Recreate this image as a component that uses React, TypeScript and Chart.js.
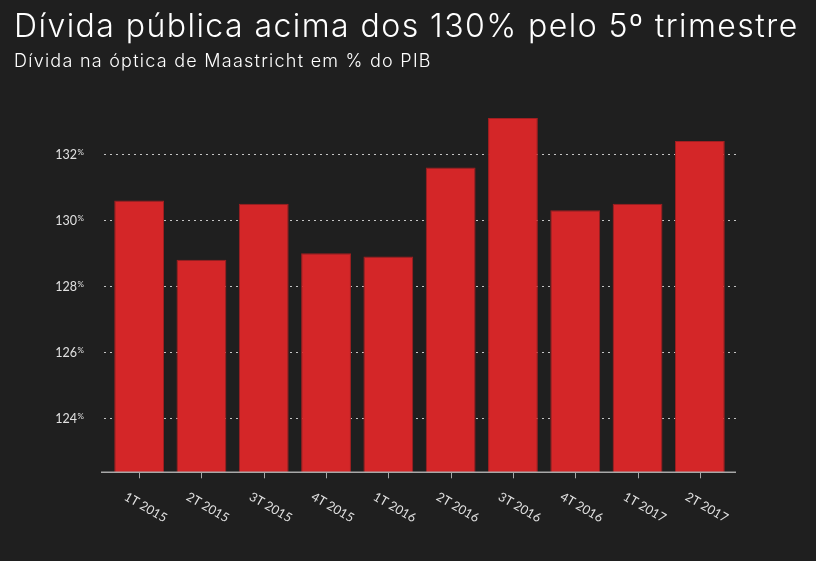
import React, { useEffect, useRef } from "react";
import { Chart, registerables } from "chart.js";

Chart.register(...registerables);

const TITLE = "Dívida pública acima dos 130% pelo 5º trimestre";
const SUBTITLE = "Dívida na óptica de Maastricht em % do PIB";
const categories = [
  "1T 2015", "2T 2015", "3T 2015", "4T 2015",
  "1T 2016", "2T 2016", "3T 2016", "4T 2016",
  "1T 2017", "2T 2017",
];
const debtValues = [130.6, 128.8, 130.5, 129.0, 128.9, 131.6, 133.1, 130.3, 130.5, 132.4];
const yTicks = [124, 126, 128, 130, 132];
const Y_MIN = 122.36;
const Y_MAX = 134;

const FONT = "Lato, 'Open Sans', sans-serif";
const TITLE_FONT = "Inter, Lato, sans-serif";
const BG = "#1f1f1f";

const customAxes = {
  id: "customAxes",
  beforeDatasetsDraw(chart: any) {
    const { ctx, chartArea, scales } = chart;
    const y = scales.y;
    ctx.save();
    ctx.strokeStyle = "#c4c4c4";
    ctx.lineWidth = 1;
    ctx.setLineDash([2, 4]);
    yTicks.forEach((t) => {
      const py = Math.round(y.getPixelForValue(t)) + 0.5;
      ctx.beginPath();
      ctx.moveTo(chartArea.left - 4, py);
      ctx.lineTo(chartArea.right + 5, py);
      ctx.stroke();
    });
    ctx.setLineDash([]);
    ctx.fillStyle = "#e0e0e0";
    yTicks.forEach((t) => {
      const py = y.getPixelForValue(t);
      ctx.font = `12.5px ${FONT}`;
      ctx.textAlign = "right";
      ctx.textBaseline = "alphabetic";
      ctx.fillText(String(t), 77, py + 4.5);
      ctx.font = `8px ${FONT}`;
      ctx.textAlign = "left";
      ctx.fillText("%", 77.5, py + 0.5);
    });
    ctx.restore();
  },
  afterDraw(chart: any) {
    const { ctx, chartArea, scales } = chart;
    const x = scales.x;
    ctx.save();
    const ay = chartArea.bottom;
    ctx.strokeStyle = "#a8a8a8";
    ctx.lineWidth = 1.5;
    ctx.beginPath();
    ctx.moveTo(chartArea.left - 7, ay);
    ctx.lineTo(chartArea.right + 5, ay);
    ctx.stroke();
    ctx.lineWidth = 1;
    categories.forEach((c, i) => {
      const px = Math.round(x.getPixelForValue(i)) + 0.5;
      ctx.beginPath();
      ctx.moveTo(px, ay);
      ctx.lineTo(px, ay + 6);
      ctx.stroke();
      ctx.save();
      ctx.translate(px - 11, ay + 18);
      ctx.rotate((30 * Math.PI) / 180);
      ctx.fillStyle = "#e0e0e0";
      ctx.font = `12.5px ${FONT}`;
      ctx.textAlign = "left";
      ctx.textBaseline = "top";
      ctx.fillText(c, 0, 0);
      ctx.restore();
    });
    ctx.restore();
  },
};

export default function App() {
  const ref = useRef<HTMLCanvasElement>(null);
  useEffect(() => {
    if (!ref.current) return;
    const chart = new Chart(ref.current, {
      type: "bar",
      data: {
        labels: categories,
        datasets: [
          {
            data: debtValues,
            backgroundColor: "#d42628",
            borderColor: "#a11f21",
            borderWidth: 1,
            barPercentage: 1,
            categoryPercentage: 0.8,
            base: Y_MIN,
          },
        ],
      },
      options: {
        animation: false,
        responsive: false,
        maintainAspectRatio: false,
        layout: { padding: { left: 108, right: 85, top: 88.3, bottom: 88.7 } },
        plugins: { legend: { display: false }, tooltip: { enabled: false } },
        scales: {
          x: { display: false, offset: true },
          y: { display: false, min: Y_MIN, max: Y_MAX },
        },
      },
      plugins: [customAxes],
    });
    return () => chart.destroy();
  }, []);
  return (
    <div style={{ position: "fixed", left: 0, top: 0, width: 816, height: 561, background: BG, overflow: "hidden" }}>
      <canvas ref={ref} width={816} height={561} style={{ position: "absolute", left: 0, top: 0, width: 816, height: 561 }} />
      <div style={{ position: "absolute", left: 14, top: 10.1, fontFamily: TITLE_FONT, fontWeight: 300, fontSize: 32, lineHeight: "32px", letterSpacing: "1.45px", color: "#ffffff", whiteSpace: "nowrap" }}>
        {TITLE}
      </div>
      <div style={{ position: "absolute", left: 14, top: 51.8, fontFamily: TITLE_FONT, fontWeight: 300, fontSize: 18, lineHeight: "18px", letterSpacing: "1.25px", color: "#ffffff", whiteSpace: "nowrap" }}>
        {SUBTITLE}
      </div>
    </div>
  );
}
